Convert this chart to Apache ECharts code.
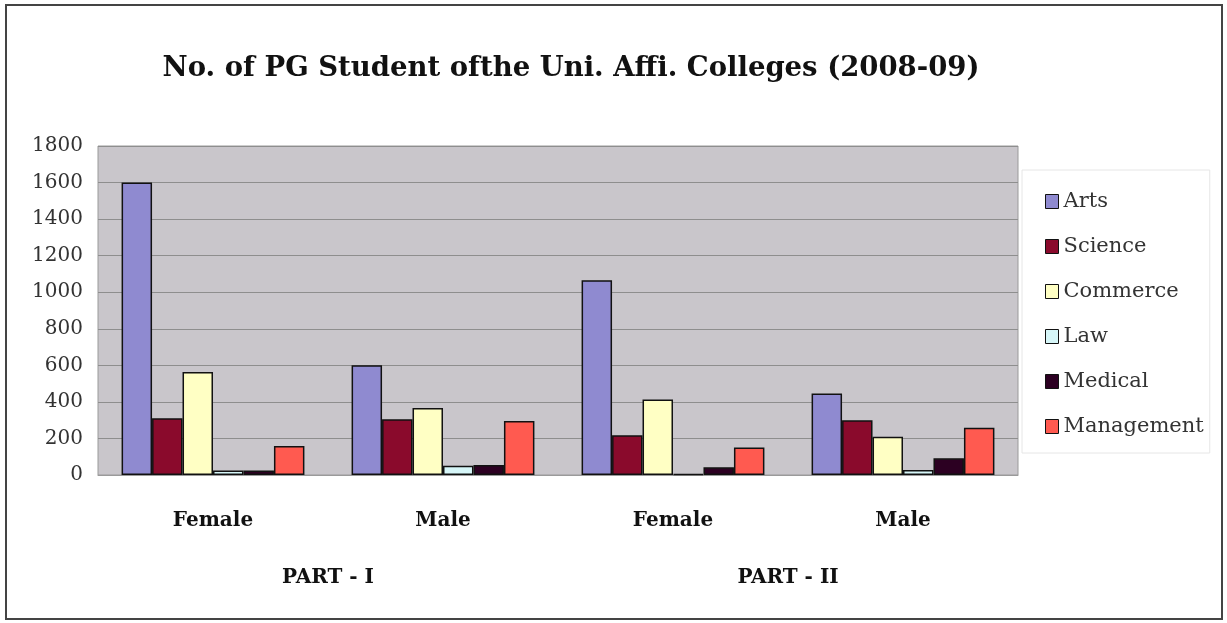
<!DOCTYPE html>
<html>
<head>
<meta charset="utf-8">
<script src="https://cdn.jsdelivr.net/npm/echarts@6/dist/echarts.min.js"></script>
<style>
  html, body { margin: 0; padding: 0; background: #fff; }
  #main { width: 1227px; height: 623px; }
</style>
</head>
<body>
<div id="main"></div>
<script>
const categories = ["Female", "Male", "Female", "Male"];
const parts = ["PART - I", "PART - II"];
const yTicks = { min: 0, max: 1800, interval: 200 };

// values per stream, in category order
const arts = [1600, 600, 1065, 446];
const science = [310, 305, 218, 300];
const commerce = [563, 367, 413, 209];
const law = [25, 51, 5, 27];
const medical = [25, 55, 42, 91];
const management = [158, 295, 151, 258];

const seriesNames = ["Arts", "Science", "Commerce", "Law", "Medical", "Management"];
const seriesData = [arts, science, commerce, law, medical, management];
const colors = ["#8f8ad0", "#8a0a2c", "#ffffc4", "#d6f6f8", "#2c0022", "#ff5a50"];

const chartDom = document.getElementById("main");
const myChart = echarts.init(chartDom);

const serif = "'DejaVu Serif', serif";

const option = {
    animation: false,
    color: colors,
    title: {
        text: "No. of PG Student ofthe Uni. Affi. Colleges (2008-09)",
        left: 566,
        textAlign: "center",
        top: 50,
        textStyle: {
            fontFamily: serif,
            fontWeight: "bold",
            fontSize: 27.5,
            color: "#111",
        },
    },
    graphic: [
        {
            type: "rect",
            shape: { x: 6, y: 5, width: 1216, height: 614 },
            style: { fill: "none", stroke: "#444", lineWidth: 2 },
            silent: true,
        },
    ],
    legend: {
        orient: "vertical",
        left: 1022,
        top: 170,
        padding: [21, 6, 16, 23],
        itemWidth: 13,
        itemHeight: 14,
        itemGap: 24,
        borderColor: "#e6e6e6",
        borderWidth: 1,
        data: seriesNames,
        icon: "rect",
        itemStyle: { borderColor: "#111", borderWidth: 1 },
        textStyle: {
            fontFamily: serif,
            fontSize: 21,
            color: "#333",
        },
    },
    grid: {
        left: 98,
        right: 209,
        top: 146,
        bottom: 148,
        show: true,
        backgroundColor: "#c9c6cb",
        borderColor: "#9a9a9a",
        borderWidth: 1,
    },
    xAxis: [
        {
            type: "category",
            data: categories,
            position: "bottom",
            axisTick: { show: false },
            axisLine: { show: true, lineStyle: { color: "#9a9a9a" } },
            axisLabel: {
                margin: 36,
                fontFamily: serif,
                fontWeight: "bold",
                fontSize: 20,
                color: "#111",
            },
        },
        {
            type: "category",
            data: parts,
            position: "bottom",
            axisTick: { show: false },
            axisLine: { show: false },
            splitLine: { show: false },
            axisLabel: {
                margin: 93,
                fontFamily: serif,
                fontWeight: "bold",
                fontSize: 20,
                color: "#111",
            },
        },
    ],
    yAxis: {
        type: "value",
        min: yTicks.min,
        max: yTicks.max,
        interval: yTicks.interval,
        axisLine: { show: false },
        axisTick: { show: false },
        splitLine: { show: true, lineStyle: { color: "#8e8e8e", width: 1 } },
        axisLabel: {
            margin: 15,
            fontFamily: serif,
            fontSize: 20,
            color: "#333",
            formatter: (v) => String(v),
        },
    },
    series: seriesNames.map((name, i) => ({
        type: "bar",
        name: name,
        xAxisIndex: 0,
        data: seriesData[i],
        barGap: "0%",
        barCategoryGap: "20.5%",
        itemStyle: { borderColor: "#111", borderWidth: 1.5 },
    })),
};

myChart.setOption(option);
</script>
</body>
</html>
